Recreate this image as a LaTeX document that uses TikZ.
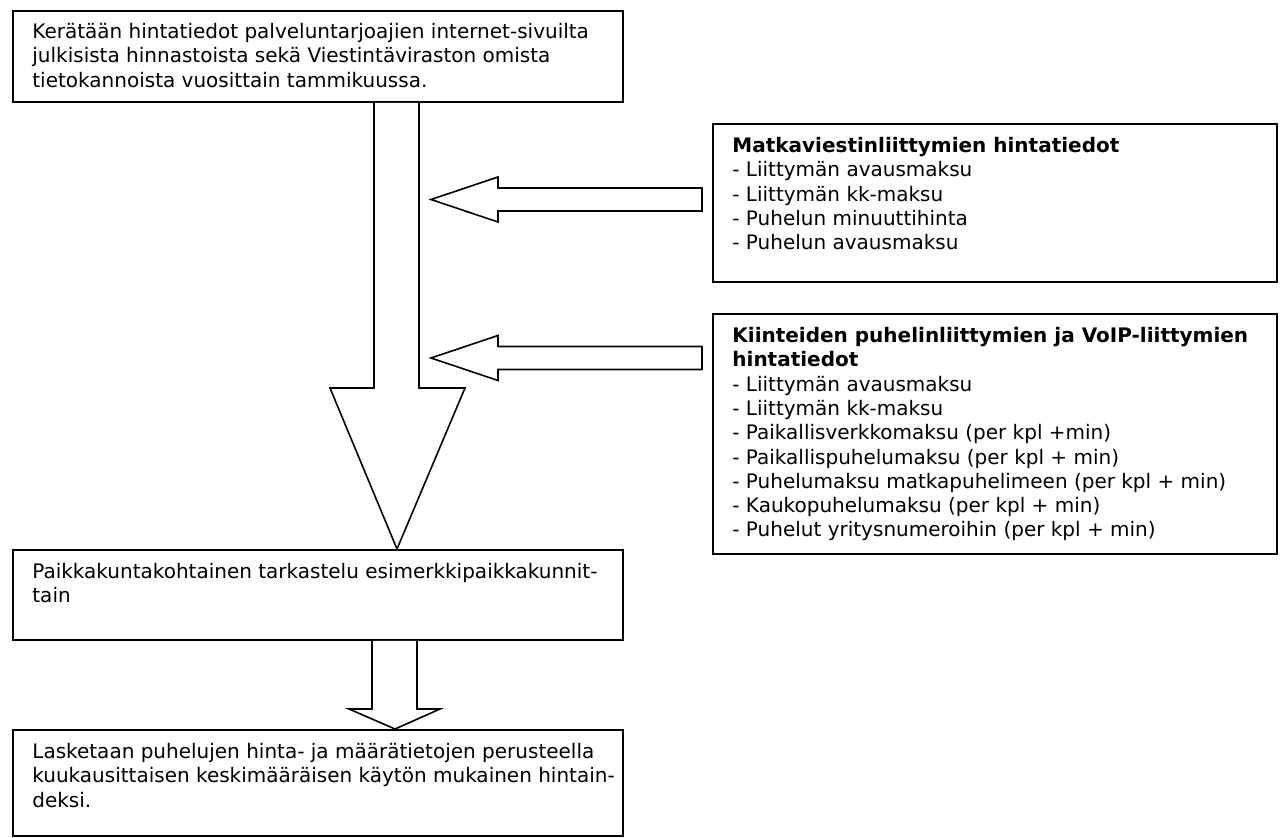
\documentclass[tikz,border=0pt]{standalone}
\usepackage{fontspec}
\setmainfont{DejaVu Sans}
\usetikzlibrary{calc}
\begin{document}
\begin{tikzpicture}[x=0.5pt,y=-0.5pt,
  box/.style={draw, line width=1pt, anchor=north west, inner sep=0pt},
  txt/.style={align=left, inner sep=0pt, anchor=north west, font=\fontsize{10pt}{12.15pt}\selectfont, execute at begin node=\rule{0pt}{8pt}},
  blockarrow/.style={draw, line width=0.8pt, line join=miter, fill=white}]
\useasboundingbox (0,0) rectangle (1280,838);
% boxes
\node[box, minimum width=305pt, minimum height=45.5pt] (top) at (12,10) {};
\node[box, minimum width=282pt, minimum height=79pt] (b1) at (712,123) {};
\node[box, minimum width=282pt, minimum height=120pt] (b2) at (712,313) {};
\node[box, minimum width=305pt, minimum height=45pt] (b3) at (12,549) {};
\node[box, minimum width=305pt, minimum height=53pt] (b4) at (12,729) {};
% texts
\node[txt] (toptxt) at ($(top.north west)+(20,13)$) {Kerätään hintatiedot palveluntarjoajien internet-sivuilta\\julkisista hinnastoista sekä Viestintäviraston omista\\tietokannoista vuosittain tammikuussa.};
\node[txt] (b1txt) at ($(b1.north west)+(20,14)$) {\textbf{Matkaviestinliittymien hintatiedot}\\- Liittymän avausmaksu\\- Liittymän kk-maksu\\- Puhelun minuuttihinta\\- Puhelun avausmaksu};
\node[txt] (b2txt) at ($(b2.north west)+(20,14)$) {\textbf{Kiinteiden puhelinliittymien ja VoIP-liittymien}\\\textbf{hintatiedot}\\- Liittymän avausmaksu\\- Liittymän kk-maksu\\- Paikallisverkkomaksu (per kpl +min)\\- Paikallispuhelumaksu (per kpl + min)\\- Puhelumaksu matkapuhelimeen (per kpl + min)\\- Kaukopuhelumaksu (per kpl + min)\\- Puhelut yritysnumeroihin (per kpl + min)};
\node[txt] (b3txt) at ($(b3.north west)+(20,14)$) {Paikkakuntakohtainen tarkastelu esimerkkipaikkakunnit-\\tain};
\node[txt] (b4txt) at ($(b4.north west)+(20,14)$) {Lasketaan puhelujen hinta- ja määrätietojen perusteella\\kuukausittaisen keskimääräisen käytön mukainen hintain-\\deksi.};
% big down arrow from top box to b3
\coordinate (bigtip) at ($(b3.north west)+(385,0)$);
\draw[blockarrow] ($(top.south west)+(362,0)$) -- ($(top.south west)+(362,285)$) -- ($(top.south west)+(318,285)$) -- (bigtip) -- ($(top.south west)+(453,285)$) -- ($(top.south west)+(407,285)$) -- ($(top.south west)+(407,0)$);
% small down arrow from b3 to b4
\coordinate (smalltip) at ($(b4.north west)+(383,0)$);
\draw[blockarrow] ($(b3.south west)+(360,0)$) -- ($(b3.south west)+(360,68)$) -- ($(b3.south west)+(337,68)$) -- (smalltip) -- ($(b3.south west)+(428,68)$) -- ($(b3.south west)+(405,68)$) -- ($(b3.south west)+(405,0)$);
% left arrows from b1 and b2 toward the big arrow
\coordinate (a1end) at ($(b1.north west)+(-10,76.5)$);
\coordinate (a1tip) at ($(a1end)+(-271,0)$);
\draw[blockarrow] ($(a1end)+(0,-11.5)$) -- ($(a1end)+(0,11.5)$) -- ($(a1tip)+(67,11.5)$) -- ($(a1tip)+(67,22.5)$) -- (a1tip) -- ($(a1tip)+(67,-22.5)$) -- ($(a1tip)+(67,-11.5)$) -- cycle;
\coordinate (a2end) at ($(b2.north west)+(-10,45)$);
\coordinate (a2tip) at ($(a2end)+(-271,0)$);
\draw[blockarrow] ($(a2end)+(0,-11.5)$) -- ($(a2end)+(0,11.5)$) -- ($(a2tip)+(67,11.5)$) -- ($(a2tip)+(67,22.5)$) -- (a2tip) -- ($(a2tip)+(67,-22.5)$) -- ($(a2tip)+(67,-11.5)$) -- cycle;
\end{tikzpicture}
\end{document}
